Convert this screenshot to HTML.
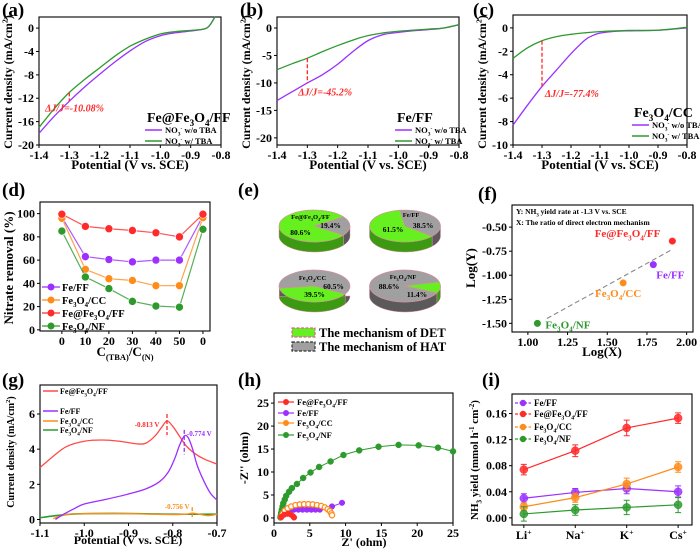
<!DOCTYPE html>
<html><head><meta charset="utf-8"><style>
html,body{margin:0;padding:0;background:#fff;}
svg, svg text{font-family:"Liberation Serif","DejaVu Serif",serif;font-weight:bold;}
</style></head><body>
<svg id="svg" width="700" height="551" viewBox="0 0 700 551" xmlns="http://www.w3.org/2000/svg" font-family="Liberation Serif, serif"></svg>
<script>
// ---------- DATA ----------
const aPotWo=[-1.4,-1.35,-1.3,-1.25,-1.2,-1.15,-1.1,-1.05,-1.0,-0.95,-0.9,-0.86,-0.84,-0.82];
const aCurWo=[-18,-15.1,-12.5,-10.1,-7.9,-5.8,-3.9,-2.3,-1.3,-0.8,-0.5,-0.2,0.3,1.9];
const aPotW=[-1.4,-1.35,-1.3,-1.25,-1.2,-1.15,-1.1,-1.05,-1.0,-0.95,-0.9,-0.86,-0.84,-0.82];
const aCurW=[-17,-13.8,-11,-8.8,-6.8,-4.8,-3.1,-1.9,-1.0,-0.6,-0.4,-0.2,0.3,1.9];
const bPotWo=[-1.4,-1.35,-1.3,-1.25,-1.2,-1.15,-1.1,-1.05,-1.0,-0.95,-0.9,-0.85,-0.8];
const bCurWo=[-13.2,-11.6,-10,-8.5,-6.6,-4.3,-2.3,-1.2,-0.8,-0.5,-0.3,0,0.6];
const bPotW=[-1.4,-1.35,-1.3,-1.25,-1.2,-1.15,-1.1,-1.05,-1.0,-0.95,-0.9,-0.85,-0.8];
const bCurW=[-7.6,-6.5,-5.5,-4.3,-3.2,-2.2,-1.4,-0.9,-0.6,-0.4,-0.2,0,0.6];
const cPotWo=[-1.4,-1.35,-1.3,-1.25,-1.2,-1.15,-1.12,-1.1,-1.05,-1.0,-0.9,-0.8];
const cCurWo=[-8.3,-6.6,-5,-3.6,-2.2,-1.0,-0.6,-0.45,-0.3,-0.25,-0.2,0];
const cPotW=[-1.4,-1.35,-1.3,-1.25,-1.2,-1.15,-1.1,-1.0,-0.9,-0.8];
const cCurW=[-2.6,-1.7,-1.1,-0.75,-0.55,-0.42,-0.32,-0.22,-0.2,0.05];
const dCats=["0","10","20","30","40","50","0"];
const dFeFF=[97,63,60.5,58.5,60,60,98];
const dCC=[96,52,44,42.5,38,38,96.5];
const dFeAt=[99.5,89,87,85.5,83.5,80,99.5];
const dNF=[85,45.5,35.5,24.5,20.5,19.5,86.5];
const eNames=["Fe@Fe_3O_4/FF","Fe/FF","Fe_3O_4/CC","Fe_3O_4/NF"];
const eDET=[80.6,61.5,39.5,11.4];
const fNames=["Fe@Fe_3O_4/FF","Fe/FF","Fe_3O_4/CC","Fe_3O_4/NF"];
const fX=[1.91,1.79,1.60,1.06];
const fY=[-0.645,-0.89,-1.08,-1.50];
const gPotRed=[-1.1,-1.07,-1.04,-1.0,-0.96,-0.92,-0.88,-0.86,-0.84,-0.825,-0.813,-0.8,-0.785,-0.77,-0.75,-0.73,-0.7];
const gCurRed=[2.95,3.6,4.15,4.45,4.52,4.45,4.3,4.35,4.75,5.25,5.6,5.3,4.75,4.2,3.75,3.45,3.15];
const gPotPur=[-1.065,-1.05,-1.02,-1.0,-0.95,-0.9,-0.86,-0.83,-0.81,-0.795,-0.785,-0.774,-0.765,-0.755,-0.745,-0.73,-0.715,-0.7];
const gCurPur=[0,0.25,0.65,0.88,1.15,1.45,1.75,2.15,2.7,3.5,4.2,4.75,4.65,4.0,3.1,2.2,1.5,1.1];
const gPotOr=[-1.07,-1.04,-1.0,-0.9,-0.85,-0.8,-0.77,-0.756,-0.74,-0.72,-0.7];
const gCurOr=[0.05,0.28,0.33,0.33,0.3,0.28,0.3,0.36,0.3,0.22,0.3];
const gPotGr=[-1.1,-1.07,-1.04,-1.0,-0.9,-0.8,-0.7];
const gCurGr=[0.1,0.2,0.28,0.33,0.34,0.3,0.3];
const hNFx=[0.9,0.95,1.0,1.1,1.2,1.3,1.5,1.7,2.1,2.5,3.2,4.07,5.1,6.3,7.9,9.7,11.9,14.6,17.4,20.2,22.9,25];
const hNFy=[0.1,0.5,1.1,1.8,2.5,3.2,4.0,4.8,5.7,6.5,7.4,8.7,9.9,11.1,12.3,13.7,14.7,15.5,15.9,15.8,15.3,14.5];
const hCCx=[1.0,1.2,1.5,1.9,2.4,3.0,3.6,4.2,4.8,5.4,6.0,6.6,7.1,7.5,7.8,8.0,8.1];
const hCCy=[0.2,0.9,1.6,2.1,2.5,2.8,2.95,3.0,3.0,2.95,2.8,2.6,2.3,1.9,1.5,1.0,0.6];
const hFFx=[1.0,1.3,1.7,2.2,2.8,3.4,4.0,4.6,5.2,5.8,6.4,8.1,9.5];
const hFFy=[0.2,0.9,1.4,1.7,1.8,1.8,1.8,1.8,1.8,1.8,1.8,2.5,3.3];
const hREx=[1.0,1.4,1.9,2.4,2.7,2.8];
const hREy=[0.2,0.7,0.9,0.7,0.3,0.1];
const iCats=["Li^+","Na^+","K^+","Cs^+"];
const iFeFF=[0.030,0.039,0.045,0.040];
const iFeFFe=[0.007,0.006,0.008,0.009];
const iFeAt=[0.074,0.103,0.138,0.153];
const iFeAte=[0.008,0.009,0.012,0.008];
const iCC=[0.017,0.031,0.052,0.078];
const iCCe=[0.006,0.007,0.009,0.008];
const iNF=[0.006,0.012,0.016,0.020];
const iNFe=[0.011,0.008,0.011,0.012];

// ---------- HELPERS ----------
const NS="http://www.w3.org/2000/svg";
const S=document.getElementById('svg');
const PUR="#9b30ff",GRN="#2e9a2e",RED="#ff2a2a",ORG="#ff8c1a";
function mk(tag,parent,attrs){const e=document.createElementNS(NS,tag);for(const k in attrs)e.setAttribute(k,attrs[k]);parent.appendChild(e);return e;}
function esc(s){return s.replace(/&/g,'&amp;').replace(/</g,'&lt;');}
function fmt(s,size){
  const segs=[];let i=0,buf='';
  while(i<s.length){
    const c=s[i];
    if(c==='_'||c==='^'){
      if(buf){segs.push([0,buf]);buf='';}
      let t='';
      if(c==='_'&&s[i+1]==='('){const j=s.indexOf(')',i);t=s.slice(i+1,j+1);i=j+1;}
      else if(c==='_'){t=s[i+1];i+=2;}
      else{let j=i+1;while(j<s.length&&s[j]!==' '&&s[j]!==')')j++;t=s.slice(i+1,j);i=j;}
      segs.push([c==='_'?1:-1,t]);
    } else {buf+=c;i++;}
  }
  if(buf)segs.push([0,buf]);
  let cur=0,out='';
  segs.forEach(sg=>{const target=sg[0]===1?size*0.3:(sg[0]===-1?-size*0.38:0);
    const fs=sg[0]===0?size:size*0.65;
    out+='<tspan dy="'+(target-cur).toFixed(2)+'" font-size="'+fs.toFixed(2)+'">'+esc(sg[1])+'</tspan>';cur=target;});
  return out;
}
function txt(parent,x,y,s,size,extra){const t=mk('text',parent,Object.assign({x:x,y:y,'font-size':size,'font-family':'Liberation Serif, serif','font-weight':'bold'},extra||{}));t.innerHTML=fmt(s,size);return t;}
function lin(d0,d1,r0,r1){return v=>r0+(v-d0)/(d1-d0)*(r1-r0);}
function smooth(pts){let d="M"+pts[0][0]+","+pts[0][1];for(let i=0;i<pts.length-1;i++){const p0=pts[i-1]||pts[i],p1=pts[i],p2=pts[i+1],p3=pts[i+2]||p2;d+=" C"+(p1[0]+(p2[0]-p0[0])/6)+","+(p1[1]+(p2[1]-p0[1])/6)+" "+(p2[0]-(p3[0]-p1[0])/6)+","+(p2[1]-(p3[1]-p1[1])/6)+" "+p2[0]+","+p2[1];}return d;}
function panel(name,box,xd,yd,xt,xl,yt,yl,fs){
  const g=mk('g',S,{});
  
  
  const X=lin(xd[0],xd[1],box.l,box.r),Y=lin(yd[0],yd[1],box.b,box.t);
  const ax=mk('g',g,{});
  
  
  xt.forEach((v,i)=>{const x=X(v);mk('line',ax,{x1:x,x2:x,y1:box.b,y2:box.b+3,stroke:'#000','stroke-width':1});
    const t=txt(ax,x,box.b+14,xl[i],fs||12,{'text-anchor':'middle'});});
  const ay=mk('g',g,{});
  
  
  yt.forEach((v,i)=>{const y=Y(v);mk('line',ay,{x1:box.l-3,x2:box.l,y1:y,y2:y,stroke:'#000','stroke-width':1});
    const t=txt(ay,box.l-5,y+4,yl[i],fs||12,{'text-anchor':'end'});});
  const fr=mk('rect',g,{x:box.l,y:box.t,width:box.r-box.l,height:box.b-box.t,fill:'none',stroke:'#000','stroke-width':1.1});
  
  
  return {g,X,Y};
}
function curve(p,xs,ys,color,name,w){const pts=xs.map((x,i)=>[p.X(x),p.Y(ys[i])]);const e=mk('path',p.g,{d:smooth(pts),fill:'none',stroke:color,'stroke-width':w||1.3});
  
  return e;}
function title(x,y,s){const t=txt(S,x,y,s,19,{});}
function axTitle(x,y,s,size,rot){const t=txt(S,x,y,s,size,{'text-anchor':'middle',transform:rot?'rotate(-90 '+x+' '+y+')':''});}
function vdash(p,x,y1,y2,color){const e=mk('line',p.g,{x1:p.X(x),x2:p.X(x),y1:p.Y(y1),y2:p.Y(y2),stroke:color,'stroke-width':1.3,'stroke-dasharray':'4,2'});
  
  }

// ---------- (a)(b)(c) ----------
const lsvX=[-1.4,-1.3,-1.2,-1.1,-1.0,-0.9,-0.8];
const lsvXL=["-1.4","-1.3","-1.2","-1.1","-1.0","-0.9","-0.8"];
function lsvLegend(p,x,y,name){
  const t=txt(p.g,x,y,name,14,{});
  [[PUR,"NO_3^- w/o TBA"],[GRN,"NO_3^- w/ TBA"]].forEach((r,i)=>{const yy=y+8+i*11;
    mk('line',p.g,{x1:x-2,x2:x+15,y1:yy,y2:yy,stroke:r[0],'stroke-width':1.4});
    const tt=txt(p.g,x+18,yy+3,r[1],8.5,{});});
}
title(2,16,"(a)");
let pa=panel('panel-a',{l:39,r:221,t:17,b:145},[-1.4,-0.8],[-20,1.9],lsvX,lsvXL,[0,-4,-8,-12,-16,-20],["0","-4","-8","-12","-16","-20"]);
curve(pa,aPotWo,aCurWo,PUR,'series-without-tba');
curve(pa,aPotW,aCurW,GRN,'series-with-tba');
vdash(pa,-1.3,-11,-12.5,RED);
{const t=txt(pa.g,pa.X(-1.38),pa.Y(-14.3),"ΔJ/J=-10.08%",10,{fill:RED,'font-style':'italic'});}
lsvLegend(pa,147,122,"Fe@Fe_3O_4/FF");
axTitle(130,169,"Potential (V vs. SCE)",13);
axTitle(12,82,"Current density (mA/cm^2)",12,true);

title(240,16,"(b)");
let pb=panel('panel-b',{l:277,r:459,t:17,b:145},[-1.4,-0.8],[-21.3,2],lsvX,lsvXL,[0,-5,-10,-15,-20],["0","-5","-10","-15","-20"]);
curve(pb,bPotWo,bCurWo,PUR,'series-without-tba');
curve(pb,bPotW,bCurW,GRN,'series-with-tba');
vdash(pb,-1.3,-5.5,-10,RED);
{const t=txt(pb.g,pb.X(-1.33),pb.Y(-12.3),"ΔJ/J=-45.2%",10,{fill:RED,'font-style':'italic'});}
lsvLegend(pb,397,122,"Fe/FF");
axTitle(368,169,"Potential (V vs. SCE)",13);
axTitle(250,82,"Current density (mA/cm^2)",12,true);

title(473,16,"(c)");
let pc=panel('panel-c',{l:513,r:687,t:15,b:145},[-1.4,-0.8],[-10,1.1],lsvX,lsvXL,[0,-2,-4,-6,-8,-10],["0","-2","-4","-6","-8","-10"]);
curve(pc,cPotWo,cCurWo,PUR,'series-without-tba');
curve(pc,cPotW,cCurW,GRN,'series-with-tba');
vdash(pc,-1.3,-1.1,-5,RED);
{const t=txt(pc.g,pc.X(-1.29),pc.Y(-5.9),"ΔJ/J=-77.4%",10,{fill:RED,'font-style':'italic'});}
lsvLegend(pc,634,117,"Fe_3O_4/CC");
axTitle(600,169,"Potential (V vs. SCE)",13);
axTitle(486,82,"Current density (mA/cm^2)",12,true);

// ---------- (d) ----------
title(2,196,"(d)");
const dIdx=dCats.map((c,i)=>i);
let pd=panel('panel-d',{l:40,r:210,t:202,b:331},[-0.93,6.3],[-1,110],dIdx,dCats,[0,20,40,60,80,100],["0","20","40","60","80","100"]);
function markerSeries(p,xs,ys,color,name,r){
  const pts=xs.map((x,i)=>[p.X(x),p.Y(ys[i])]);
  const l=mk('polyline',p.g,{points:pts.map(q=>q.join(',')).join(' '),fill:'none',stroke:color,'stroke-width':1.2,opacity:0.8});
  
  
  pts.forEach(q=>{const c=mk('circle',p.g,{cx:q[0],cy:q[1],r:r||4,fill:color,stroke:'#fff','stroke-width':0.6});
    
    });
}
markerSeries(pd,dIdx,dFeFF,PUR,'fe-ff');
markerSeries(pd,dIdx,dCC,ORG,'fe3o4-cc');
markerSeries(pd,dIdx,dFeAt,RED,'fe-at-fe3o4-ff');
markerSeries(pd,dIdx,dNF,GRN,'fe3o4-nf');
[[PUR,"Fe/FF"],[ORG,"Fe_3O_4/CC"],[RED,"Fe@Fe_3O_4/FF"],[GRN,"Fe_3O_4/NF"]].forEach((r,i)=>{const y=287+i*13;
  mk('line',pd.g,{x1:42,x2:60,y1:y,y2:y,stroke:r[0],'stroke-width':1.2});
  mk('circle',pd.g,{cx:51,cy:y,r:3.5,fill:r[0]});
  const t=txt(pd.g,62,y+4,r[1],10.5,{});});
axTitle(125,356,"C_(TBA)/C_(N)",13);
axTitle(13,268,"Nitrate removal (%)",13,true);

// ---------- (e) pies ----------
title(238,196,"(e)");
const pieCenters=[[314.5,226],[405,226],[314.5,286],[405,286]];
const pieDETStart=[35,40,30,-15]; // layout: degrees where DET slice begins
const pieDetLbl=[[-14,6],[-12,3],[0,8],[12,8]];
const pieHatLbl=[[16,-1],[18,-1],[19,0],[-16,0]];
const pieNameLbl=[[-4,-7],[6,-9],[-2,-6],[-2,-7]];
function pie(i){
  const g=mk('g',S,{});
  
  
  const cx=pieCenters[i][0],cy=pieCenters[i][1],rx=35.5,ry=16,dp=10;
  const a0=pieDETStart[i]*Math.PI/180,a1=a0+eDET[i]/100*2*Math.PI;
  const slices=[[a0,a1,'#66f020','#3c9a12','det'],[a1,a0+2*Math.PI,'#a0a0a0','#5a5a5a','hat']];
  slices.forEach(s=>{const top=[];for(let k=0;k<=160;k++){const t=s[0]+(s[1]-s[0])*k/160;if(Math.sin(t)>=-0.001){top.push([cx+rx*Math.cos(t),cy+ry*Math.sin(t)]);}}
    if(top.length>1){const pts=top.concat(top.slice().reverse().map(q=>[q[0],q[1]+dp]));
      const e=mk('polygon',g,{points:pts.map(q=>q.join(',')).join(' '),fill:s[3],stroke:'#e08aa0','stroke-width':0.5});
      
      }});
  slices.forEach(s=>{const large=(s[1]-s[0])>Math.PI?1:0;
    const d="M"+cx+","+cy+" L"+(cx+rx*Math.cos(s[0]))+","+(cy+ry*Math.sin(s[0]))+" A"+rx+","+ry+" 0 "+large+" 1 "+(cx+rx*Math.cos(s[1]))+","+(cy+ry*Math.sin(s[1]))+" Z";
    const e=mk('path',g,{d:d,fill:s[2],stroke:'#e08aa0','stroke-width':0.6});
    
    });
  const t1=txt(g,cx+pieDetLbl[i][0],cy+pieDetLbl[i][1]+3,eDET[i].toFixed(1)+"%",7.5,{'text-anchor':'middle'});
  
  
  const t2=txt(g,cx+pieHatLbl[i][0],cy+pieHatLbl[i][1]+3,(100-eDET[i]).toFixed(1)+"%",7.5,{'text-anchor':'middle'});
  
  
  const nm=txt(g,cx+pieNameLbl[i][0],cy+pieNameLbl[i][1],eNames[i],6.5,{'text-anchor':'middle'});
  
  
}
[0,1,2,3].forEach(pie);
{const g=mk('g',S,{});
 
 
 mk('rect',g,{x:292,y:328,width:23,height:9,fill:'#66f020',stroke:'#e0609a','stroke-width':1.2,'stroke-dasharray':'3,1.5'});
 mk('rect',g,{x:292,y:342,width:23,height:9,fill:'#a0a0a0',stroke:'#333','stroke-width':1.2,'stroke-dasharray':'3,1.5'});
 const a=txt(g,319,337,"The mechanism of DET",12.5,{});
 const b=txt(g,319,351,"The mechanism of HAT",12.5,{});}

// ---------- (f) ----------
title(478,200,"(f)");
let pf=panel('panel-f',{l:512,r:693,t:205,b:332},[0.9,2.04],[-1.59,-0.27],[1,1.25,1.5,1.75,2],["1.00","1.25","1.50","1.75","2.00"],[-0.5,-0.75,-1,-1.25,-1.5],["-0.50","-0.75","-1.00","-1.25","-1.50"]);
{const e=mk('line',pf.g,{x1:pf.X(1.12),y1:pf.Y(-1.45),x2:pf.X(1.9),y2:pf.Y(-0.74),stroke:'#888','stroke-width':1.1,'stroke-dasharray':'5,3'});
 
 }
const fCols=[RED,PUR,ORG,GRN];
const fLab=[[-12,-4,'end'],[3,14,'start'],[-5,14,'middle'],[8,5,'start']];
fX.forEach((x,i)=>{const c=mk('circle',pf.g,{cx:pf.X(x),cy:pf.Y(fY[i]),r:3.5,fill:fCols[i]});
  
  
  const t=txt(pf.g,pf.X(x)+fLab[i][0],pf.Y(fY[i])+fLab[i][1],fNames[i],11,{fill:fCols[i],'font-weight':'normal','text-anchor':fLab[i][2]});
  
  });
{const a=txt(pf.g,516,214,"Y: NH_3 yield rate at -1.3 V vs. SCE",7.5,{});
 const b=txt(pf.g,516,225,"X: The ratio of direct electron mechanism",7.5,{});}
axTitle(602,356,"Log(X)",13);
axTitle(475,268,"Log(Y)",13,true);

// ---------- (g) ----------
title(2,386,"(g)");
let pg=panel('panel-g',{l:40,r:217,t:385,b:523},[-1.1,-0.7],[-0.2,7.65],[-1.1,-1.0,-0.9,-0.8,-0.7],["-1.1","-1.0","-0.9","-0.8","-0.7"],[0,2,4,6],["0","2","4","6"]);
curve(pg,gPotGr,gCurGr,GRN,'fe3o4-nf-curve',1.6);
curve(pg,gPotOr,gCurOr,ORG,'fe3o4-cc-curve');
curve(pg,gPotRed,gCurRed,"#ff4a4a",'fe-at-fe3o4-ff-curve');
curve(pg,gPotPur,gCurPur,PUR,'fe-ff-curve');
vdash(pg,-0.813,6.0,4.8,RED);
vdash(pg,-0.774,5.1,3.7,PUR);
vdash(pg,-0.756,0.7,0.05,ORG);
{const a=txt(pg.g,pg.X(-0.83),pg.Y(5.25),"-0.813 V",7,{fill:RED,'text-anchor':'end'});
 const b=txt(pg.g,pg.X(-0.768),pg.Y(4.75),"-0.774 V",7,{fill:PUR});
 const c=txt(pg.g,pg.X(-0.762),pg.Y(0.6),"-0.756 V",7,{fill:ORG,'text-anchor':'end'});}
[["#ff4a4a","Fe@Fe_3O_4/FF",391],[PUR,"Fe/FF",411],[ORG,"Fe_3O_4/CC",421],[GRN,"Fe_3O_4/NF",430]].forEach(r=>{
  mk('line',pg.g,{x1:43,x2:58,y1:r[2],y2:r[2],stroke:r[0],'stroke-width':1.5});
  const t=txt(pg.g,60,r[2]+3,r[1],8,{});});
axTitle(128,544,"Potential (V vs. SCE)",12);
axTitle(14,452,"Current density (mA/cm^2)",10,true);

// ---------- (h) ----------
title(238,386,"(h)");
let ph=panel('panel-h',{l:274,r:453,t:393,b:523},[0,25],[-1.1,27.2],[0,5,10,15,20,25],["0","5","10","15","20","25"],[0,5,10,15,20,25],["0","5","10","15","20","25"]);
function nyq(xs,ys,color,name,r,hollow){
  const pts=xs.map((x,i)=>[ph.X(x),ph.Y(ys[i])]);
  const l=mk('polyline',ph.g,{points:pts.map(q=>q.join(',')).join(' '),fill:'none',stroke:color,'stroke-width':1});
  
  
  pts.forEach(q=>{const c=mk('circle',ph.g,{cx:q[0],cy:q[1],r:r,fill:hollow?'#fff':color,stroke:color,'stroke-width':hollow?1.3:0.5});
    
    });
}
nyq(hNFx,hNFy,GRN,'fe3o4-nf',3);
nyq(hFFx,hFFy,PUR,'fe-ff',2.8);
nyq(hCCx,hCCy,ORG,'fe3o4-cc',2.6,true);
nyq(hREx,hREy,RED,'fe-at-fe3o4-ff',2.8);
[[RED,"Fe@Fe_3O_4/FF",402],[PUR,"Fe/FF",413],[ORG,"Fe_3O_4/CC",423],[GRN,"Fe_3O_4/NF",435]].forEach(r=>{
  mk('line',ph.g,{x1:278,x2:294,y1:r[2],y2:r[2],stroke:r[0],'stroke-width':1.2});
  mk('circle',ph.g,{cx:286,cy:r[2],r:3,fill:r[0]});
  const t=txt(ph.g,297,r[2]+3,r[1],8.5,{'font-weight':'normal'});});
axTitle(364,546,"Z' (ohm)",12);
axTitle(248,458,"-Z'' (ohm)",12,true);

// ---------- (i) ----------
title(482,386,"(i)");
const iIdx=iCats.map((c,i)=>i);
let pi=panel('panel-i',{l:512,r:692,t:394,b:525},[-0.23,3.27],[-0.011,0.19],iIdx,iCats,[0,0.04,0.08,0.12,0.16],["0.00","0.04","0.08","0.12","0.16"]);
function errSeries(vals,errs,color,name){
  vals.forEach((v,i)=>{const x=pi.X(i);const e=mk('path',pi.g,{d:"M"+x+","+pi.Y(v-errs[i])+"V"+pi.Y(v+errs[i])+"M"+(x-3)+","+pi.Y(v-errs[i])+"h6M"+(x-3)+","+pi.Y(v+errs[i])+"h6",stroke:color,'stroke-width':1,fill:'none'});
    
    });
  const pts=vals.map((v,i)=>[pi.X(i),pi.Y(v)]);
  const l=mk('polyline',pi.g,{points:pts.map(q=>q.join(',')).join(' '),fill:'none',stroke:color,'stroke-width':1.2});
  
  
  pts.forEach(q=>{const c=mk('circle',pi.g,{cx:q[0],cy:q[1],r:4,fill:color,stroke:color,'stroke-width':0.5,'fill-opacity':0.85});
    
    });
}
errSeries(iFeFF,iFeFFe,PUR,'fe-ff');
errSeries(iFeAt,iFeAte,RED,'fe-at-fe3o4-ff');
errSeries(iCC,iCCe,ORG,'fe3o4-cc');
errSeries(iNF,iNFe,GRN,'fe3o4-nf');
[[PUR,"Fe/FF",403],[RED,"Fe@Fe_3O_4/FF",414],[ORG,"Fe_3O_4/CC",427],[GRN,"Fe_3O_4/NF",439]].forEach(r=>{
  mk('line',pi.g,{x1:515,x2:531,y1:r[2],y2:r[2],stroke:r[0],'stroke-width':1.2,'stroke-dasharray':'3,1.5'});
  mk('circle',pi.g,{cx:523,cy:r[2],r:3.2,fill:r[0]});
  const t=txt(pi.g,534,r[2]+3,r[1],9,{});});
axTitle(478,460,"NH_3 yield (mmol h^-1 cm^-2)",11,true);
</script>
</body></html>
